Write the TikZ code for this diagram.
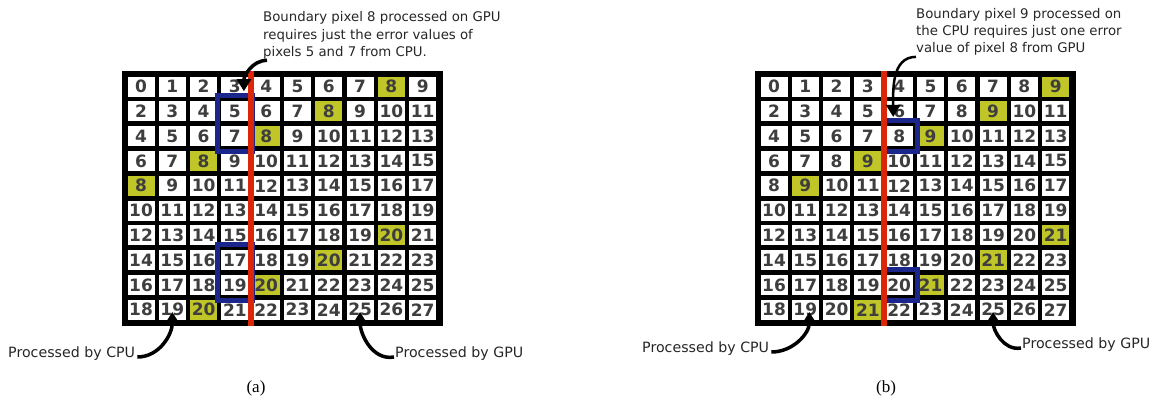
\documentclass[tikz,border=0pt]{standalone}
\usepackage{fontspec}
\setmainfont{Liberation Serif}
\newfontfamily\labelfont{DejaVu Sans}
\usetikzlibrary{arrows.meta,fit}

\definecolor{pixhot}{RGB}{192,198,40}
\definecolor{cutred}{RGB}{220,38,8}
\definecolor{boxblue}{RGB}{26,38,140}
\definecolor{pixtext}{RGB}{62,62,62}

\tikzset{
  pix/.style={fill=white,minimum width=27pt,minimum height=20pt,inner sep=0pt,
    text=pixtext,font=\labelfont\bfseries\fontsize{17}{17}\selectfont},
  pixhi/.style={pix,fill=pixhot},
  cut/.style={draw=cutred,line width=6pt},
  pair/.style={draw=boxblue,line width=5pt,inner xsep=3.5pt,inner ysep=5.5pt},
  note/.style={align=left,inner sep=0pt,text=black!85,
    font=\labelfont\fontsize{13.3}{17.3}\selectfont},
  side/.style={note,font=\labelfont\fontsize{14.2}{17}\selectfont},
  curl/.style={-{Triangle[width=14pt,length=12pt]},line width=3.5pt},
}

\begin{document}
\begin{tikzpicture}[x=1pt,y=-1pt]
\useasboundingbox (0,0) rectangle (1160,402);

\foreach \p/\dx/\hA/\hB in {a/0/8/20,b/633/9/21} {
  \fill ({122+\dx},71) rectangle ({443+\dx},326);
  \foreach \r in {0,...,9}
    \foreach \c in {0,...,9} {
      \pgfmathtruncatemacro\v{2*\r+\c}
      \def\sty{pix}
      \ifnum\v=\hA \def\sty{pixhi}\fi
      \ifnum\v=\hB \def\sty{pixhi}\fi
      \node[\sty] (\p-\r-\c) at ({141+31.3*\c+\dx},{86.5+24.8*\r}) {\v};
    }
}

\node[pair,fit=(a-1-3)(a-2-3)] (pairA1) {};
\node[pair,fit=(a-7-3)(a-8-3)] (pairA2) {};
\node[pair,fit=(b-2-4),xshift=1.5pt] (pairB1) {};
\node[pair,fit=(b-8-4),xshift=1.5pt] (pairB2) {};

\foreach \dx in {0,633}
  \draw[cut] ({250.5+\dx},71) -- ({250.5+\dx},326);

% notes and arrows
\node[note,anchor=north west] (noteA) at (263,11.5) {Boundary pixel 8 processed on GPU\\requires just the error values of\\pixels 5 and 7 from CPU.};
\draw[curl] ([xshift=4pt,yshift=-1pt]noteA.south west) to[out=180,in=90] ([xshift=9pt,yshift=5.5pt]a-0-3.south);
\node[note,anchor=north west] (noteB) at (916,8) {Boundary pixel 9 processed on\\the CPU requires just one error\\value of pixel 8 from GPU};
\draw[curl,line width=2.5pt] ([yshift=-1pt]noteB.south west) to[out=180,in=90] ([xshift=-6pt,yshift=9pt]b-2-4.north);

\node[side,anchor=base west] (cpuA) at (8,357) {Processed by CPU};
\draw[curl] ([xshift=2pt]cpuA.base east) to[out=0,in=-90] ([yshift=8pt]a-9-1.south);
\node[side,anchor=base west] (gpuA) at (395,357) {Processed by GPU};
\draw[curl] ([xshift=-1pt]gpuA.base west) to[out=190,in=-90] ([yshift=8pt]a-9-7.south);

\node[side,anchor=base west] (cpuB) at (642,352) {Processed by CPU};
\draw[curl] ([xshift=2pt]cpuB.base east) to[out=0,in=-90] ([xshift=4pt,yshift=8pt]b-9-1.south);
\node[side,anchor=base west] (gpuB) at (1022,348) {Processed by GPU};
\draw[curl] ([xshift=-1pt]gpuB.base west) to[out=190,in=-90] ([yshift=8pt]b-9-7.south);

\node[font=\fontsize{17}{17}\selectfont] (capA) at (256,388) {(a)};
\node[font=\fontsize{17}{17}\selectfont] (capB) at (886,388) {(b)};
\end{tikzpicture}
\end{document}
